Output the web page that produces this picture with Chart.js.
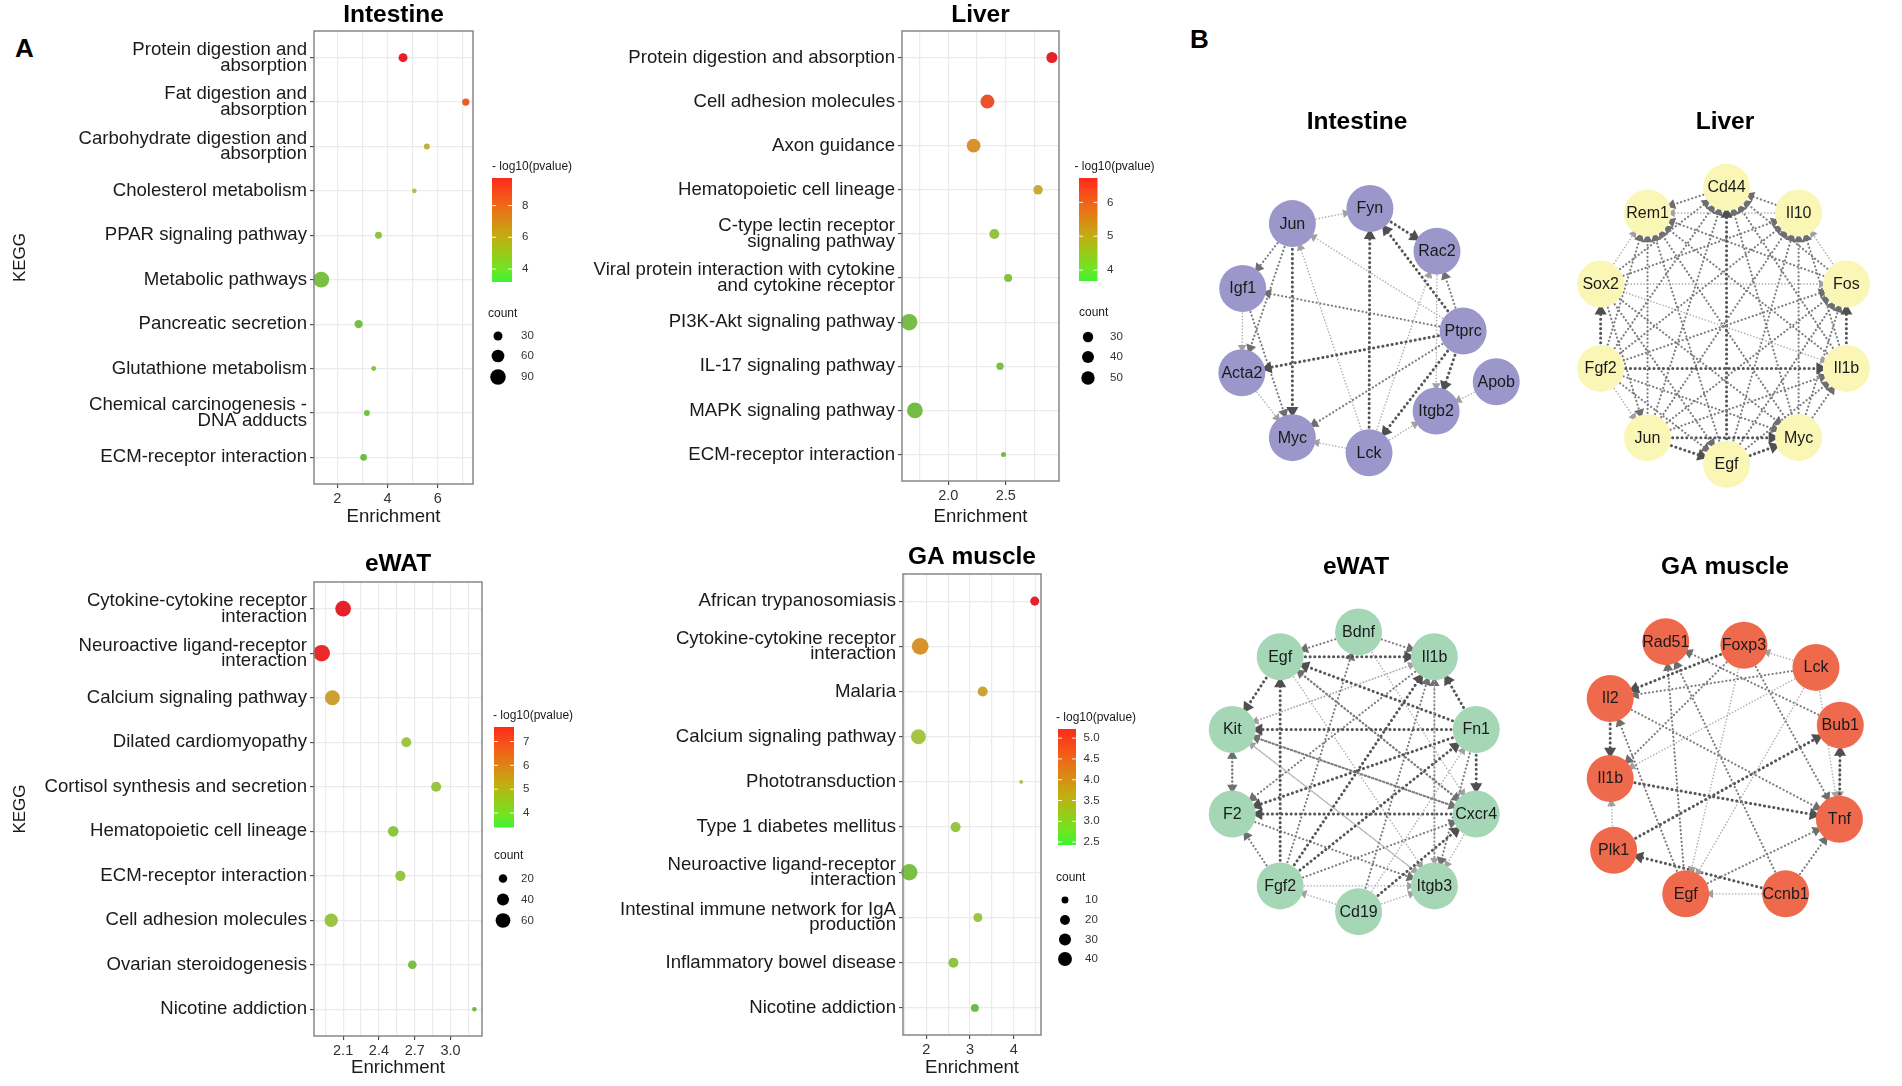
<!DOCTYPE html>
<html>
<head>
<meta charset="utf-8">
<script src="https://cdn.jsdelivr.net/npm/chart.js@4.4.1/dist/chart.umd.min.js"></script>
<style>
html, body { margin: 0; padding: 0; background: #fff; }
#page { position: relative; width: 1902px; height: 1086px; overflow: hidden; font-family: "Liberation Sans", Arial, sans-serif; }
canvas { position: absolute; }
.tag { position: absolute; font-weight: bold; font-size: 26px; line-height: 26px; color: #000; }
</style>
</head>
<body>
<div id="page">
  <div class="tag" style="left:15px; top:35px">A</div>
  <div class="tag" style="left:1190px; top:26px">B</div>
  <canvas id="intDot" width="590" height="530" style="left:0; top:0"></canvas>
  <canvas id="livDot" width="605" height="530" style="left:560px; top:0"></canvas>
  <canvas id="watDot" width="590" height="546" style="left:0; top:540px"></canvas>
  <canvas id="gaDot" width="605" height="546" style="left:560px; top:540px"></canvas>
  <canvas id="intNet" width="365" height="420" style="left:1180px; top:90px"></canvas>
  <canvas id="livNet" width="357" height="420" style="left:1545px; top:90px"></canvas>
  <canvas id="watNet" width="365" height="420" style="left:1180px; top:540px"></canvas>
  <canvas id="gaNet" width="357" height="420" style="left:1545px; top:540px"></canvas>
</div>
<script>
// ---------- A: KEGG enrichment dot plots (top to bottom) ----------

// Intestine
const intCategories = [
    ['Protein digestion and', 'absorption'],
    ['Fat digestion and', 'absorption'],
    ['Carbohydrate digestion and', 'absorption'],
    'Cholesterol metabolism',
    'PPAR signaling pathway',
    'Metabolic pathways',
    'Pancreatic secretion',
    'Glutathione metabolism',
    ['Chemical carcinogenesis -', 'DNA adducts'],
    'ECM-receptor interaction'
];
const intEnrichment = [4.62, 7.12, 5.57, 5.07, 3.64, 1.36, 2.85, 3.45, 3.18, 3.05];
const intLogP = [9.74, 8.6, 6.1, 5.3, 4.2, 3.6, 3.5, 3.9, 3.4, 3.18];
const intCount = [30, 20, 13, 8, 18, 93, 26, 9, 13, 17];
const intXTicks = [2, 4, 6];
const intColorTicks = [4, 6, 8];
const intCountBreaks = [30, 60, 90];

// Liver
const livCategories = [
    'Protein digestion and absorption',
    'Cell adhesion molecules',
    'Axon guidance',
    'Hematopoietic cell lineage',
    ['C-type lectin receptor', 'signaling pathway'],
    ['Viral protein interaction with cytokine', 'and cytokine receptor'],
    'PI3K-Akt signaling pathway',
    'IL-17 signaling pathway',
    'MAPK signaling pathway',
    'ECM-receptor interaction'
];
const livEnrichment = [2.90, 2.34, 2.22, 2.78, 2.40, 2.52, 1.66, 2.45, 1.71, 2.48];
const livLogP = [6.72, 6.3, 5.5, 5.1, 4.2, 4.0, 3.8, 3.9, 3.75, 3.68];
const livCount = [34, 54, 53, 25, 28, 18, 75, 15, 68, 7];
const livXTicks = [2.0, 2.5];
const livColorTicks = [4, 5, 6];
const livCountBreaks = [30, 40, 50];

// eWAT
const watCategories = [
    ['Cytokine-cytokine receptor', 'interaction'],
    ['Neuroactive ligand-receptor', 'interaction'],
    'Calcium signaling pathway',
    'Dilated cardiomyopathy',
    'Cortisol synthesis and secretion',
    'Hematopoietic cell lineage',
    'ECM-receptor interaction',
    'Cell adhesion molecules',
    'Ovarian steroidogenesis',
    'Nicotine addiction'
];
const watEnrichment = [2.10, 1.92, 2.01, 2.63, 2.88, 2.52, 2.58, 2.00, 2.68, 3.20];
const watLogP = [7.61, 7.5, 5.6, 4.4, 4.2, 4.1, 4.2, 4.3, 3.6, 3.39];
const watCount = [68, 77, 62, 28, 28, 32, 29, 49, 21, 6];
const watXTicks = [2.1, 2.4, 2.7, 3.0];
const watColorTicks = [4, 5, 6, 7];
const watCountBreaks = [20, 40, 60];

// GA muscle
const gaCategories = [
    'African trypanosomiasis',
    ['Cytokine-cytokine receptor', 'interaction'],
    'Malaria',
    'Calcium signaling pathway',
    'Phototransduction',
    'Type 1 diabetes mellitus',
    ['Neuroactive ligand-receptor', 'interaction'],
    ['Intestinal immune network for IgA', 'production'],
    'Inflammatory bowel disease',
    'Nicotine addiction'
];
const gaEnrichment = [4.48, 1.86, 3.29, 1.82, 4.17, 2.67, 1.61, 3.18, 2.62, 3.11];
const gaLogP = [5.22, 4.1, 3.8, 3.2, 3.2, 3.0, 2.6, 3.0, 2.85, 2.43];
const gaCount = [17, 58, 21, 46, 3, 21, 56, 17, 21, 13];
const gaXTicks = [2, 3, 4];
const gaColorTicks = [2.5, 3.0, 3.5, 4.0, 4.5, 5.0];
const gaCountBreaks = [10, 20, 30, 40];

// ---------- B: PPI networks (layout coordinates, y pointing down) ----------

const intNodes = ['Jun', 'Fyn', 'Rac2', 'Igf1', 'Ptprc', 'Apob', 'Acta2', 'Itgb2', 'Myc', 'Lck'];
const intNodeX = [-80.5, 8.5, 85.5, -137.5, 115.5, 153.5, -138.5, 84.5, -80.5, 7.5];
const intNodeY = [-86, -103, -55, -13, 35, 92, 82, 125, 155, 172];
const intEdges = [
    ['Jun', 'Fyn', 0], ['Fyn', 'Rac2', 2], ['Ptprc', 'Fyn', 2], ['Ptprc', 'Rac2', 1],
    ['Ptprc', 'Jun', 0], ['Ptprc', 'Igf1', 1], ['Ptprc', 'Acta2', 2], ['Ptprc', 'Myc', 1],
    ['Ptprc', 'Itgb2', 2], ['Ptprc', 'Lck', 2], ['Jun', 'Igf1', 1], ['Jun', 'Acta2', 1],
    ['Jun', 'Myc', 2], ['Lck', 'Jun', 0], ['Lck', 'Fyn', 2], ['Lck', 'Myc', 0],
    ['Lck', 'Itgb2', 0], ['Lck', 'Rac2', 0], ['Igf1', 'Acta2', 0], ['Igf1', 'Myc', 1],
    ['Acta2', 'Myc', 0], ['Rac2', 'Itgb2', 0], ['Apob', 'Itgb2', 0]
];

const livNodes = ['Cd44', 'Rem1', 'Il10', 'Sox2', 'Fos', 'Fgf2', 'Il1b', 'Jun', 'Myc', 'Egf'];
const livNodeX = [3.5, -87.5, 86.5, -141.5, 141.5, -141.5, 141.5, -87.5, 86.5, 3.5];
const livNodeY = [-127, -98, -98, -18, -18, 77, 77, 155, 155, 185];
const livEdges = [
    ['Fgf2', 'Sox2', 2], ['Fgf2', 'Jun', 0], ['Fgf2', 'Egf', 1], ['Fgf2', 'Myc', 1], ['Fgf2', 'Il1b', 2],
    ['Fgf2', 'Fos', 1], ['Fgf2', 'Il10', 1], ['Fgf2', 'Cd44', 1], ['Fgf2', 'Rem1', 1],
    ['Sox2', 'Jun', 1], ['Sox2', 'Egf', 1], ['Sox2', 'Myc', 1], ['Sox2', 'Il1b', 0], ['Sox2', 'Fos', 0],
    ['Sox2', 'Il10', 1], ['Sox2', 'Cd44', 1], ['Sox2', 'Rem1', 0],
    ['Jun', 'Egf', 2], ['Jun', 'Myc', 2], ['Jun', 'Il1b', 1], ['Jun', 'Fos', 1], ['Jun', 'Il10', 1],
    ['Jun', 'Cd44', 1], ['Jun', 'Rem1', 1],
    ['Egf', 'Myc', 2], ['Egf', 'Il1b', 1], ['Egf', 'Fos', 1], ['Egf', 'Il10', 1], ['Egf', 'Cd44', 2], ['Egf', 'Rem1', 1],
    ['Myc', 'Il1b', 1], ['Myc', 'Fos', 1], ['Myc', 'Il10', 1], ['Myc', 'Cd44', 1], ['Myc', 'Rem1', 1],
    ['Il1b', 'Fos', 2], ['Il1b', 'Il10', 1], ['Il1b', 'Cd44', 1], ['Il1b', 'Rem1', 1],
    ['Fos', 'Il10', 0], ['Fos', 'Cd44', 1], ['Fos', 'Rem1', 1],
    ['Il10', 'Cd44', 1], ['Il10', 'Rem1', 0], ['Cd44', 'Rem1', 1]
];

const watNodes = ['Bdnf', 'Egf', 'Il1b', 'Kit', 'Fn1', 'F2', 'Cxcr4', 'Fgf2', 'Itgb3', 'Cd19'];
const watNodeX = [-4.5, -94.5, 82.5, -149.5, 130.5, -149.5, 130.5, -94.5, 82.5, -4.5];
const watNodeY = [-133, -105, -105, -23, -23, 72, 72, 153, 153, 182];
const watEdges = [
    ['Bdnf', 'Egf', 1], ['Bdnf', 'Il1b', 1], ['Egf', 'Il1b', 2], ['Egf', 'Kit', 2], ['Il1b', 'Kit', 0],
    ['Fn1', 'Kit', 2], ['Cxcr4', 'Kit', 1], ['Itgb3', 'Kit', 0], ['F2', 'Kit', 1], ['Kit', 'F2', 1],
    ['Fgf2', 'Egf', 2], ['Fgf2', 'Bdnf', 1], ['Fgf2', 'Il1b', 2], ['Fgf2', 'Fn1', 2], ['Fgf2', 'Cxcr4', 1],
    ['Fgf2', 'Itgb3', 0], ['Fgf2', 'F2', 1], ['Cd19', 'Fgf2', 0], ['Cd19', 'Itgb3', 0], ['Cd19', 'Il1b', 1],
    ['Cd19', 'Fn1', 0], ['Cd19', 'Cxcr4', 2], ['Il1b', 'Itgb3', 0], ['Fn1', 'Il1b', 2], ['Fn1', 'Egf', 2],
    ['Fn1', 'Cxcr4', 2], ['Fn1', 'F2', 2], ['Fn1', 'Itgb3', 1], ['Cxcr4', 'F2', 2], ['Cxcr4', 'Egf', 1],
    ['Cxcr4', 'Itgb3', 0], ['Itgb3', 'Il1b', 1], ['Kit', 'Itgb3', 0], ['Bdnf', 'Cxcr4', 0], ['Egf', 'Itgb3', 0],
    ['Il1b', 'F2', 1], ['Egf', 'Cxcr4', 1], ['Kit', 'Cxcr4', 1], ['F2', 'Itgb3', 1], ['Kit', 'Il1b', 0]
];

const gaNodes = ['Rad51', 'Foxp3', 'Lck', 'Il2', 'Bub1', 'Il1b', 'Tnf', 'Plk1', 'Egf', 'Ccnb1'];
const gaNodeX = [-66.5, 23.5, 106.5, -130.5, 134.5, -130.5, 133.5, -126.5, -43.5, 71.5];
const gaNodeY = [-122, -118, -93, -58, -28, 32, 78, 113, 162, 162];
const gaEdges = [
    ['Lck', 'Foxp3', 0], ['Foxp3', 'Il2', 2], ['Lck', 'Il2', 1], ['Lck', 'Il1b', 0], ['Lck', 'Egf', 0],
    ['Foxp3', 'Egf', 0], ['Foxp3', 'Il1b', 1], ['Bub1', 'Rad51', 1], ['Foxp3', 'Tnf', 1], ['Ccnb1', 'Rad51', 1],
    ['Egf', 'Rad51', 1], ['Il2', 'Il1b', 2], ['Egf', 'Il2', 1], ['Il2', 'Tnf', 1], ['Il1b', 'Tnf', 2],
    ['Plk1', 'Bub1', 2], ['Plk1', 'Il1b', 0], ['Ccnb1', 'Plk1', 2], ['Ccnb1', 'Egf', 0], ['Ccnb1', 'Tnf', 1],
    ['Egf', 'Tnf', 1], ['Tnf', 'Bub1', 2], ['Bub1', 'Tnf', 0], ['Lck', 'Tnf', 0]
];

// ---------- styles ----------
Chart.defaults.font.family = '"Liberation Sans", Arial, Helvetica, sans-serif';
Chart.defaults.color = '#1a1a1a';

const dotStops = [[0, '#6dbd45'], [0.15, '#8dc540'], [0.32, '#aec646'], [0.47, '#c6aa36'],
                  [0.6, '#d8922c'], [0.85, '#eb552b'], [1, '#e8202a']];
const barStops = [[0, '#3ef234'], [0.12, '#6ee622'], [0.43, '#c2ae12'], [0.73, '#ee6a18'], [1, '#ff2a1a']];
const NODE_R = 23.5;
const edgeStyles = [
    { color: '#acacac', head: '#a0a0a0', width: 1.4, dash: [1.4, 1.8], cap: 'butt', arrow: 5 },
    { color: '#7c7c7c', head: '#6e6e6e', width: 2.2, dash: [0.1, 3.8], cap: 'round', arrow: 6 },
    { color: '#555555', head: '#4f4f4f', width: 3.0, dash: [0.1, 4.6], cap: 'round', arrow: 7 }
];

function hexRgb(h) {
    return [parseInt(h.slice(1, 3), 16), parseInt(h.slice(3, 5), 16), parseInt(h.slice(5, 7), 16)];
}

function mix(stops, t) {
    t = Math.max(0, Math.min(1, t));
    for (let i = 1; i < stops.length; i++) {
        if (t <= stops[i][0]) {
            const f = (t - stops[i - 1][0]) / (stops[i][0] - stops[i - 1][0]);
            const a = hexRgb(stops[i - 1][1]), b = hexRgb(stops[i][1]);
            return 'rgb(' + a.map((v, k) => Math.round(v + (b[k] - v) * f)).join(',') + ')';
        }
    }
    return stops[stops.length - 1][1];
}

const panelTitle = {
    id: 'panelTitle',
    afterDraw(chart, args, o) {
        const ctx = chart.ctx, a = chart.chartArea;
        ctx.save();
        ctx.font = 'bold 24.5px "Liberation Sans", Arial, sans-serif';
        ctx.fillStyle = '#000';
        ctx.textAlign = 'center';
        ctx.textBaseline = 'middle';
        ctx.fillText(o.text, (a.left + a.right) / 2 + (o.dx || 0), o.y);
        ctx.restore();
    }
};

// ---------- dot plot ----------
function dotPlot(id, p) {
    const canvas = document.getElementById(id);
    const W = canvas.width, H = canvas.height;
    const n = p.cats.length;
    const lo = Math.min(...p.enrich), hi = Math.max(...p.enrich), pad = (hi - lo) * 0.05;
    const pMin = Math.min(...p.logp), pMax = Math.max(...p.logp);
    const step = p.xTicks[1] - p.xTicks[0];
    const minor = p.xTicks.slice(0, -1).map((t, i) => (t + p.xTicks[i + 1]) / 2);
    [p.xTicks[0] - step / 2, p.xTicks[p.xTicks.length - 1] + step / 2].forEach(v => {
        if (v > lo - pad && v < hi + pad) minor.push(v);
    });
    const isMajor = v => p.xTicks.some(t => Math.abs(t - v) < 1e-9);
    const radius = c => p.sizeK * Math.sqrt(c) / 2;
    const L = p.legend;

    const frame = {
        id: 'frame',
        afterDatasetsDraw(chart) {
            const a = chart.chartArea, ctx = chart.ctx;
            ctx.save();
            ctx.strokeStyle = '#7f7f7f';
            ctx.lineWidth = 1.4;
            ctx.strokeRect(a.left, a.top, a.right - a.left, a.bottom - a.top);
            ctx.restore();
        }
    };

    const dotLegend = {
        id: 'dotLegend',
        afterDraw(chart) {
            const ctx = chart.ctx;
            ctx.save();
            ctx.textBaseline = 'middle';
            ctx.textAlign = 'left';
            ctx.fillStyle = '#1a1a1a';
            ctx.font = '12px "Liberation Sans", Arial, sans-serif';
            ctx.fillText('- log10(pvalue)', L.titleX, L.titleY);
            ctx.fillText('count', L.countX, L.countY);

            const bh = L.barBottom - L.barTop;
            const g = ctx.createLinearGradient(0, L.barBottom, 0, L.barTop);
            barStops.forEach(s => g.addColorStop(s[0], s[1]));
            ctx.fillStyle = g;
            ctx.fillRect(L.barX, L.barTop, L.barW, bh);

            ctx.font = '11.5px "Liberation Sans", Arial, sans-serif';
            p.colorTicks.forEach(v => {
                const y = L.barBottom - (v - pMin) / (pMax - pMin) * bh;
                ctx.strokeStyle = 'rgba(255,255,255,0.9)';
                ctx.lineWidth = 1;
                ctx.beginPath();
                ctx.moveTo(L.barX, y); ctx.lineTo(L.barX + 4, y);
                ctx.moveTo(L.barX + L.barW - 4, y); ctx.lineTo(L.barX + L.barW, y);
                ctx.stroke();
                ctx.fillStyle = '#333';
                ctx.fillText(v.toFixed(p.cDec), L.labelX, y);
            });

            p.countBreaks.forEach((b, j) => {
                const y = L.circleY[j];
                ctx.fillStyle = '#000';
                ctx.beginPath();
                ctx.arc(L.circleX, y, radius(b), 0, Math.PI * 2);
                ctx.fill();
                ctx.fillStyle = '#333';
                ctx.fillText(String(b), L.circleLabelX, y);
            });
            ctx.restore();
        }
    };

    return new Chart(canvas, {
        type: 'bubble',
        data: {
            datasets: [{
                data: p.enrich.map((x, i) => ({ x: x, y: i + 1, r: radius(p.count[i]) })),
                backgroundColor: p.logp.map(v => mix(dotStops, (v - pMin) / (pMax - pMin))),
                borderWidth: 0,
                clip: false
            }]
        },
        options: {
            responsive: false,
            animation: false,
            events: [],
            layout: { padding: { top: p.area.top, right: W - p.area.right, left: 0, bottom: 0 } },
            scales: {
                x: {
                    type: 'linear',
                    min: lo - pad,
                    max: hi + pad,
                    afterBuildTicks: s => {
                        s.ticks = p.xTicks.concat(minor).sort((a, b) => a - b).map(v => ({ value: v }));
                    },
                    afterFit: s => { s.height = H - p.area.bottom; },
                    ticks: {
                        autoSkip: false, maxRotation: 0, padding: 2, color: '#333',
                        font: { size: 14.5 },
                        callback: v => isMajor(v) ? v.toFixed(p.xDec) : ''
                    },
                    grid: {
                        color: '#ebebeb', lineWidth: 1.2, tickLength: 4, tickWidth: 1.1,
                        tickColor: c => isMajor(c.tick.value) ? '#444' : 'rgba(0,0,0,0)'
                    },
                    border: { display: false },
                    title: {
                        display: true, text: 'Enrichment', color: '#1a1a1a',
                        font: { size: 18.6, lineHeight: 1 },
                        padding: { top: 0, bottom: H - p.xTitleY - 9.3 }
                    }
                },
                y: {
                    type: 'linear',
                    reverse: true,
                    min: 0.4,
                    max: n + 0.6,
                    afterBuildTicks: s => { s.ticks = p.cats.map((c, i) => ({ value: i + 1 })); },
                    afterFit: s => { s.width = p.area.left; },
                    ticks: {
                        autoSkip: false, padding: 3, color: '#1a1a1a',
                        font: { size: 18.6, lineHeight: 0.84 },
                        callback: v => p.cats[v - 1]
                    },
                    grid: { color: '#ebebeb', lineWidth: 1.2, tickLength: 4, tickWidth: 1.1, tickColor: '#444' },
                    border: { display: false },
                    title: {
                        display: !!p.yTitle, text: p.yTitle || '', color: '#1a1a1a',
                        font: { size: 17, lineHeight: 1 },
                        padding: { top: 11.5, bottom: 0 }
                    }
                }
            },
            plugins: {
                legend: { display: false },
                tooltip: { enabled: false },
                panelTitle: { text: p.title, y: p.titleY }
            }
        },
        plugins: [panelTitle, frame, dotLegend]
    });
}

// ---------- network ----------
function network(id, net) {
    const canvas = document.getElementById(id);
    const W = canvas.width, H = canvas.height;
    const idx = {};
    net.nodes.forEach((name, i) => { idx[name] = i; });

    const edgeSets = net.edges.map(([s, t, w]) => {
        const x1 = net.x[idx[s]], y1 = net.y[idx[s]];
        const x2 = net.x[idx[t]], y2 = net.y[idx[t]];
        const len = Math.hypot(x2 - x1, y2 - y1);
        const ux = (x2 - x1) / len, uy = (y2 - y1) / len;
        const st = edgeStyles[w];
        const back = NODE_R + st.arrow;
        return {
            data: [{ x: x1 + ux * NODE_R, y: y1 + uy * NODE_R }, { x: x2 - ux * back, y: y2 - uy * back }],
            showLine: true,
            borderColor: st.color,
            borderWidth: st.width,
            borderDash: st.dash,
            borderCapStyle: st.cap,
            pointRadius: [0, st.arrow],
            pointStyle: 'triangle',
            pointRotation: [0, Math.atan2(ux, -uy) * 180 / Math.PI],
            pointBackgroundColor: st.head,
            pointBorderWidth: 0,
            order: 1,
            clip: false
        };
    });

    const nodeLabels = {
        id: 'nodeLabels',
        afterDatasetsDraw(chart) {
            const ctx = chart.ctx;
            ctx.save();
            ctx.font = '16px "Liberation Sans", Arial, sans-serif';
            ctx.fillStyle = '#1a1a1a';
            ctx.textAlign = 'center';
            ctx.textBaseline = 'middle';
            chart.getDatasetMeta(0).data.forEach((el, i) => ctx.fillText(net.nodes[i], el.x, el.y + 0.5));
            ctx.restore();
        }
    };

    return new Chart(canvas, {
        type: 'scatter',
        data: {
            datasets: [{
                data: net.nodes.map((name, i) => ({ x: net.x[i], y: net.y[i] })),
                pointRadius: NODE_R,
                pointBackgroundColor: net.color,
                pointBorderWidth: 0,
                order: 0,
                clip: false
            }].concat(edgeSets)
        },
        options: {
            responsive: false,
            animation: false,
            events: [],
            layout: { padding: 0 },
            scales: {
                x: { type: 'linear', display: false, min: -W / 2, max: W / 2 },
                y: { type: 'linear', display: false, min: -H / 2, max: H / 2, reverse: true }
            },
            plugins: {
                legend: { display: false },
                tooltip: { enabled: false },
                panelTitle: { text: net.title, y: net.titleY, dx: net.titleDx }
            }
        },
        plugins: [nodeLabels, panelTitle]
    });
}

// ---------- build ----------
dotPlot('intDot', {
    title: 'Intestine', titleY: 15.5, yTitle: 'KEGG',
    cats: intCategories, enrich: intEnrichment, logp: intLogP, count: intCount,
    xTicks: intXTicks, xDec: 0, colorTicks: intColorTicks, cDec: 0, countBreaks: intCountBreaks,
    sizeK: 1.64, area: { left: 314, right: 473, top: 31, bottom: 484 }, xTitleY: 516.5,
    legend: { titleX: 492, titleY: 167, barX: 492, barTop: 178, barBottom: 282, barW: 20, labelX: 522,
              countX: 488, countY: 314, circleX: 498, circleY: [336, 356, 377], circleLabelX: 521 }
});

dotPlot('livDot', {
    title: 'Liver', titleY: 15.5,
    cats: livCategories, enrich: livEnrichment, logp: livLogP, count: livCount,
    xTicks: livXTicks, xDec: 1, colorTicks: livColorTicks, cDec: 0, countBreaks: livCountBreaks,
    sizeK: 1.9, area: { left: 342, right: 499, top: 31, bottom: 481 }, xTitleY: 516.5,
    legend: { titleX: 514.5, titleY: 167, barX: 519, barTop: 178, barBottom: 281, barW: 18.5, labelX: 547,
              countX: 519, countY: 313, circleX: 528, circleY: [337, 357, 378], circleLabelX: 550 }
});

dotPlot('watDot', {
    title: 'eWAT', titleY: 24, yTitle: 'KEGG',
    cats: watCategories, enrich: watEnrichment, logp: watLogP, count: watCount,
    xTicks: watXTicks, xDec: 1, colorTicks: watColorTicks, cDec: 0, countBreaks: watCountBreaks,
    sizeK: 1.9, area: { left: 314, right: 482, top: 42, bottom: 496 }, xTitleY: 528,
    legend: { titleX: 493, titleY: 176, barX: 494, barTop: 187, barBottom: 287.5, barW: 20, labelX: 523,
              countX: 494, countY: 316, circleX: 503, circleY: [338.5, 359.5, 380.5], circleLabelX: 521 }
});

dotPlot('gaDot', {
    title: 'GA muscle', titleY: 17,
    cats: gaCategories, enrich: gaEnrichment, logp: gaLogP, count: gaCount,
    xTicks: gaXTicks, xDec: 0, colorTicks: gaColorTicks, cDec: 1, countBreaks: gaCountBreaks,
    sizeK: 2.2, area: { left: 343, right: 481, top: 34, bottom: 495 }, xTitleY: 528,
    legend: { titleX: 496, titleY: 178, barX: 498, barTop: 189, barBottom: 305, barW: 18, labelX: 523.6,
              countX: 496, countY: 337.5, circleX: 505, circleY: [360, 380, 399.5, 419], circleLabelX: 525 }
});

network('intNet', { title: 'Intestine', titleY: 32, titleDx: -5.5, color: '#9b97cb',
    nodes: intNodes, x: intNodeX, y: intNodeY, edges: intEdges });
network('livNet', { title: 'Liver', titleY: 32, titleDx: 1.5, color: '#faf6b5',
    nodes: livNodes, x: livNodeX, y: livNodeY, edges: livEdges });
network('watNet', { title: 'eWAT', titleY: 27, titleDx: -6.5, color: '#a5d7b7',
    nodes: watNodes, x: watNodeX, y: watNodeY, edges: watEdges });
network('gaNet', { title: 'GA muscle', titleY: 27, titleDx: 1.5, color: '#ef6a4c',
    nodes: gaNodes, x: gaNodeX, y: gaNodeY, edges: gaEdges });
</script>
</body>
</html>
